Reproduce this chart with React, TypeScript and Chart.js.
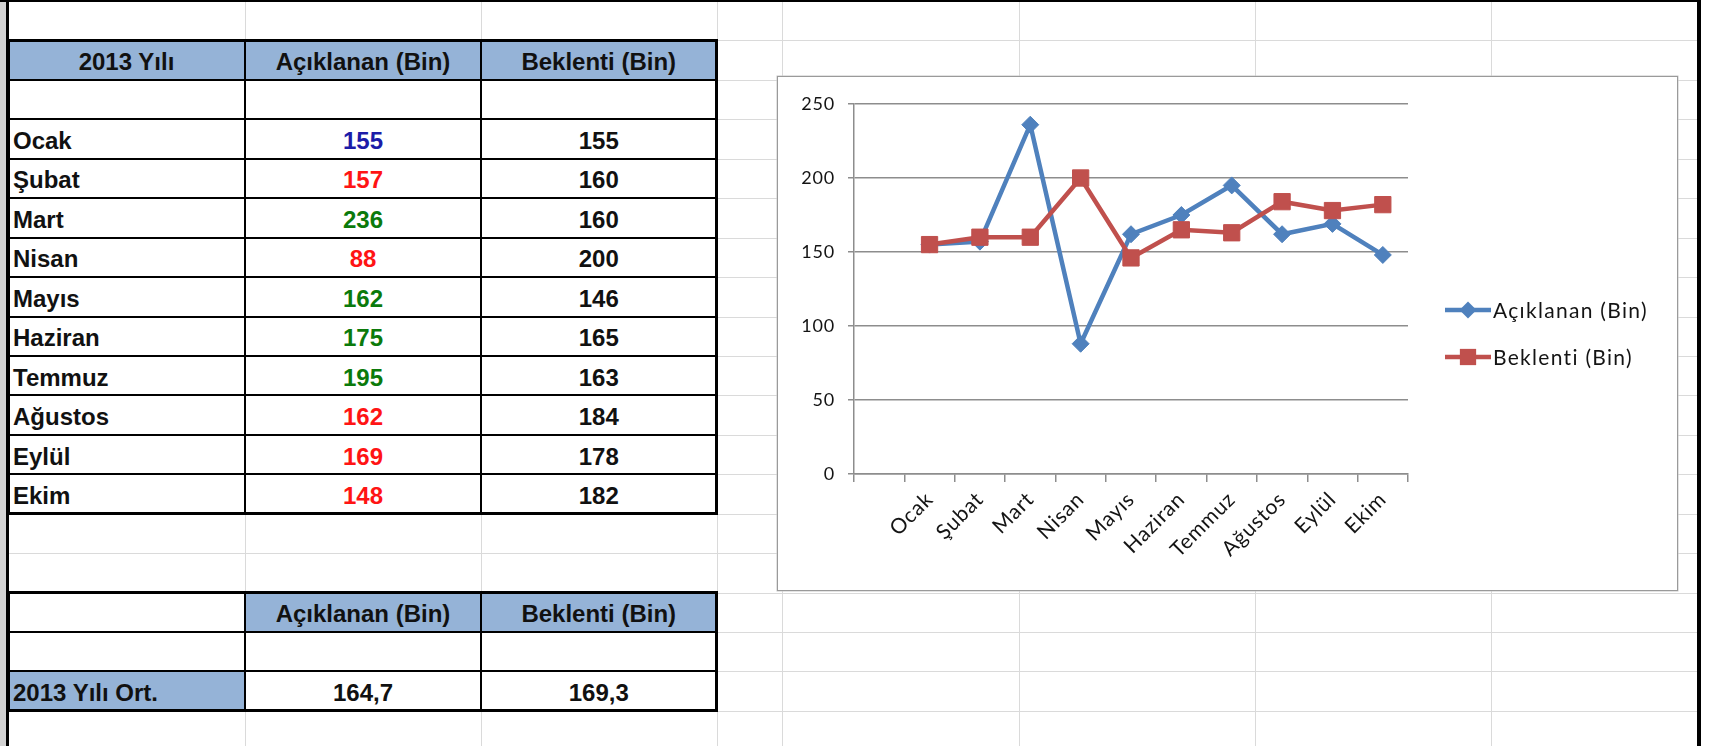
import React, { useEffect, useRef } from "react";
import { Chart, registerables } from "chart.js";

Chart.register(...registerables);

// ---------------- data ----------------
const months = ["Ocak", "Şubat", "Mart", "Nisan", "Mayıs", "Haziran", "Temmuz", "Ağustos", "Eylül", "Ekim"];
const actualValues = [155, 157, 236, 88, 162, 175, 195, 162, 169, 148];
const expectedValues = [155, 160, 160, 200, 146, 165, 163, 184, 178, 182];
const tableHeaders = ["2013 Yılı", "Açıklanan (Bin)", "Beklenti (Bin)"];
const seriesNames = ["Açıklanan (Bin)", "Beklenti (Bin)"];
const averageLabel = "2013 Yılı Ort.";
const yAxisMin = 0;
const yAxisMax = 250;
const yAxisStep = 50;

// chart categories include the blank row under the header (empty first slot)
const chartCategories = ["", ...months];
const chartActual = [null, ...actualValues];
const chartExpected = [null, ...expectedValues];

const mean = (a: number[]) => a.reduce((s, v) => s + v, 0) / a.length;
const fmt = (v: number) => v.toFixed(1).replace(".", ",");

// ---------------- layout ----------------
const W = 1710;
const H = 746;
const ROW_TOP = 1;
const ROW_H = 39.44;
const rowY = (k: number) => ROW_TOP + ROW_H * k;
const COL_X = [8, 245, 481, 716.5, 782, 1019, 1255, 1491, 1698];

const BLUE_HDR = "#95B3D7";
const TABLE_FONT = '"Liberation Sans", Arial, sans-serif';
const CHART_FONT = "Lato";

const C_BLUE = "#4F81BD";
const C_RED = "#C0504D";
const AXIS = "#8d8d8d";
const TXT = "#141414";

const numColor = (a: number, e: number) => (a > e ? "#0b7a0b" : a < e ? "#ff1414" : "#1c1ca8");

// chart box
const BOX_L = 777;
const BOX_T = 76;
const BOX_W = 901;
const BOX_H = 515;
const CW = BOX_W - 2;
const CH = BOX_H - 2;
const PLOT_L = 854 - (BOX_L + 1);
const PLOT_R = 1408 - (BOX_L + 1);
const PLOT_T = 104 - (BOX_T + 1);
const PLOT_B = 474 - (BOX_T + 1);

const LEG_X0 = 1445 - (BOX_L + 1);
const LEG_X1 = 1491 - (BOX_L + 1);
const LEG_Y0 = 310 - (BOX_T + 1);
const LEG_DY = 47;

const spacingPlugin = {
  id: "textSpacing",
  beforeDraw(chart: any) {
    (chart.ctx as any).letterSpacing = "0.8px";
  },
};

const legendPlugin = {
  id: "sideLegend",
  afterDraw(chart: any) {
    const ctx = chart.ctx as CanvasRenderingContext2D;
    chart.data.datasets.forEach((ds: any, i: number) => {
      const y = LEG_Y0 + i * LEG_DY;
      ctx.save();
      ctx.strokeStyle = ds.borderColor;
      ctx.lineWidth = ds.borderWidth;
      ctx.beginPath();
      ctx.moveTo(LEG_X0, y);
      ctx.lineTo(LEG_X1, y);
      ctx.stroke();
      const cx = (LEG_X0 + LEG_X1) / 2;
      ctx.fillStyle = ds.borderColor;
      const r = ds.pointRadius;
      ctx.beginPath();
      if (ds.pointStyle === "rectRot") {
        ctx.moveTo(cx, y - r);
        ctx.lineTo(cx + r, y);
        ctx.lineTo(cx, y + r);
        ctx.lineTo(cx - r, y);
        ctx.closePath();
      } else {
        const s = r * Math.SQRT1_2;
        ctx.rect(cx - s, y - s, 2 * s, 2 * s);
      }
      ctx.fill();
      ctx.fillStyle = TXT;
      (ctx as any).letterSpacing = "1.3px";
      ctx.font = `21px ${CHART_FONT}`;
      ctx.textBaseline = "middle";
      ctx.textAlign = "left";
      ctx.fillText(ds.label, LEG_X1 + 2, y + 1);
      ctx.restore();
    });
  },
};

function LineChart() {
  const ref = useRef<HTMLCanvasElement>(null);
  useEffect(() => {
    const chart = new Chart(ref.current as HTMLCanvasElement, {
      type: "line",
      data: {
        labels: chartCategories,
        datasets: [
          {
            label: seriesNames[0],
            data: chartActual,
            borderColor: C_BLUE,
            backgroundColor: C_BLUE,
            borderWidth: 4.5,
            pointStyle: "rectRot",
            pointRadius: 8.5,
            pointBackgroundColor: C_BLUE,
            pointBorderColor: C_BLUE,
            pointBorderWidth: 1,
            tension: 0,
            order: 1,
          },
          {
            label: seriesNames[1],
            data: chartExpected,
            borderColor: C_RED,
            backgroundColor: C_RED,
            borderWidth: 4.5,
            pointStyle: "rect",
            pointRadius: 11.5,
            pointBackgroundColor: C_RED,
            pointBorderColor: C_RED,
            pointBorderWidth: 1,
            tension: 0,
            order: 0,
          },
        ],
      } as any,
      options: {
        responsive: false,
        animation: false,
        events: [],
        layout: {
          padding: { left: 0, top: PLOT_T, right: CW - PLOT_R, bottom: 0 },
        },
        plugins: {
          legend: { display: false },
          tooltip: { enabled: false },
          title: { display: false },
        },
        scales: {
          x: {
            type: "category",
            offset: true,
            grid: {
              display: true,
              drawOnChartArea: false,
              drawTicks: true,
              offset: true,
              tickLength: 8,
              color: AXIS,
              lineWidth: 1.5,
            },
            border: { display: true, color: AXIS, width: 1.5 },
            ticks: {
              autoSkip: false,
              minRotation: 45,
              maxRotation: 45,
              padding: 5,
              color: TXT,
              font: { family: CHART_FONT, size: 21 },
            },
            afterFit: (s: any) => {
              s.height = CH - PLOT_B;
            },
          },
          y: {
            min: yAxisMin,
            max: yAxisMax,
            ticks: {
              stepSize: yAxisStep,
              padding: 13,
              color: TXT,
              font: { family: CHART_FONT, size: 18 },
            },
            grid: {
              color: AXIS,
              lineWidth: 1.5,
              drawTicks: true,
              tickLength: 6,
            },
            border: { display: true, color: AXIS, width: 1.5 },
            afterFit: (s: any) => {
              s.width = PLOT_L;
            },
          },
        },
      } as any,
      plugins: [spacingPlugin, legendPlugin],
    });
    return () => chart.destroy();
  }, []);
  return <canvas ref={ref} width={CW} height={CH} style={{ display: "block", width: CW, height: CH }} />;
}

// ---------------- sheet helpers ----------------
function Box(props: { l: number; t: number; w: number; h: number; bg: string }) {
  return <div style={{ position: "absolute", left: props.l, top: props.t, width: props.w, height: props.h, background: props.bg }} />;
}

function Cell(props: {
  c0: number;
  c1: number;
  r: number;
  bg?: string;
  align?: "left" | "center";
  color?: string;
  text?: string;
}) {
  const x0 = COL_X[props.c0];
  const x1 = COL_X[props.c1];
  const y0 = rowY(props.r);
  return (
    <div
      style={{
        position: "absolute",
        left: x0,
        top: y0,
        width: x1 - x0,
        height: ROW_H,
        background: props.bg || "transparent",
        display: "flex",
        alignItems: "center",
        justifyContent: props.align === "left" ? "flex-start" : "center",
        paddingLeft: props.align === "left" ? 5 : 0,
        paddingTop: 4,
        boxSizing: "border-box",
        fontFamily: TABLE_FONT,
        fontWeight: 700,
        fontSize: 24,
        color: props.color || "#111",
        whiteSpace: "nowrap",
      }}
    >
      {props.text || ""}
    </div>
  );
}

function TableFrame(props: { r0: number; r1: number }) {
  const x0 = COL_X[0];
  const x1 = COL_X[3];
  const y0 = rowY(props.r0);
  const y1 = rowY(props.r1);
  const lines: React.ReactNode[] = [];
  for (let k = props.r0 + 1; k < props.r1; k++) {
    lines.push(<Box key={"h" + k} l={x0} t={rowY(k) - 1} w={x1 - x0} h={2} bg="#000" />);
  }
  [1, 2].forEach((c) => lines.push(<Box key={"v" + c} l={COL_X[c] - 1} t={y0} w={2} h={y1 - y0} bg="#000" />));
  return (
    <>
      {lines}
      <div
        style={{
          position: "absolute",
          left: x0 - 1,
          top: y0 - 1.5,
          width: x1 - x0 + 2.5,
          height: y1 - y0 + 3,
          border: "3px solid #000",
          boxSizing: "border-box",
        }}
      />
    </>
  );
}

export default function App() {
  const grid: React.ReactNode[] = [];
  for (let c = 1; c < COL_X.length - 1; c++) {
    grid.push(<Box key={"gc" + c} l={COL_X[c]} t={0} w={1} h={H} bg="#dadada" />);
  }
  for (let k = 1; k <= 18; k++) {
    grid.push(<Box key={"gr" + k} l={9} t={rowY(k)} w={COL_X[8] - 9} h={1} bg="#dadada" />);
  }

  const avgA = fmt(mean(actualValues));
  const avgE = fmt(mean(expectedValues));

  return (
    <div style={{ position: "absolute", left: 0, top: 0, width: W, height: H, overflow: "hidden", background: "#fff" }}>
      {grid}

      {/* table 1 */}
      {tableHeaders.map((h, i) => (
        <Cell key={"th" + i} c0={i} c1={i + 1} r={1} bg={BLUE_HDR} text={h} />
      ))}
      {months.map((m, i) => (
        <React.Fragment key={"row" + i}>
          <Cell c0={0} c1={1} r={3 + i} bg="#fff" align="left" text={m} />
          <Cell c0={1} c1={2} r={3 + i} bg="#fff" text={String(actualValues[i])} color={numColor(actualValues[i], expectedValues[i])} />
          <Cell c0={2} c1={3} r={3 + i} bg="#fff" text={String(expectedValues[i])} />
        </React.Fragment>
      ))}
      <Cell c0={0} c1={3} r={2} bg="#fff" />
      <TableFrame r0={1} r1={13} />

      {/* table 2 */}
      <Cell c0={0} c1={1} r={15} bg="#fff" />
      <Cell c0={1} c1={2} r={15} bg={BLUE_HDR} text={seriesNames[0]} />
      <Cell c0={2} c1={3} r={15} bg={BLUE_HDR} text={seriesNames[1]} />
      <Cell c0={0} c1={3} r={16} bg="#fff" />
      <Cell c0={0} c1={1} r={17} bg={BLUE_HDR} align="left" text={averageLabel} />
      <Cell c0={1} c1={2} r={17} bg="#fff" text={avgA} />
      <Cell c0={2} c1={3} r={17} bg="#fff" text={avgE} />
      <TableFrame r0={15} r1={18} />

      {/* chart */}
      <div
        style={{
          position: "absolute",
          left: BOX_L,
          top: BOX_T,
          width: BOX_W,
          height: BOX_H,
          border: "1px solid #9a9a9a",
          boxSizing: "border-box",
          background: "#fff",
          boxShadow: "0 0 0 0.5px #c8c8c8",
        }}
      >
        <LineChart />
      </div>

      {/* sheet frame */}
      <Box l={0} t={0} w={6} h={H} bg="#d2d2d2" />
      <Box l={6} t={0} w={3} h={H} bg="#000" />
      <Box l={0} t={0} w={1701} h={2} bg="#000" />
      <Box l={1697} t={0} w={4} h={H} bg="#000" />
    </div>
  );
}
